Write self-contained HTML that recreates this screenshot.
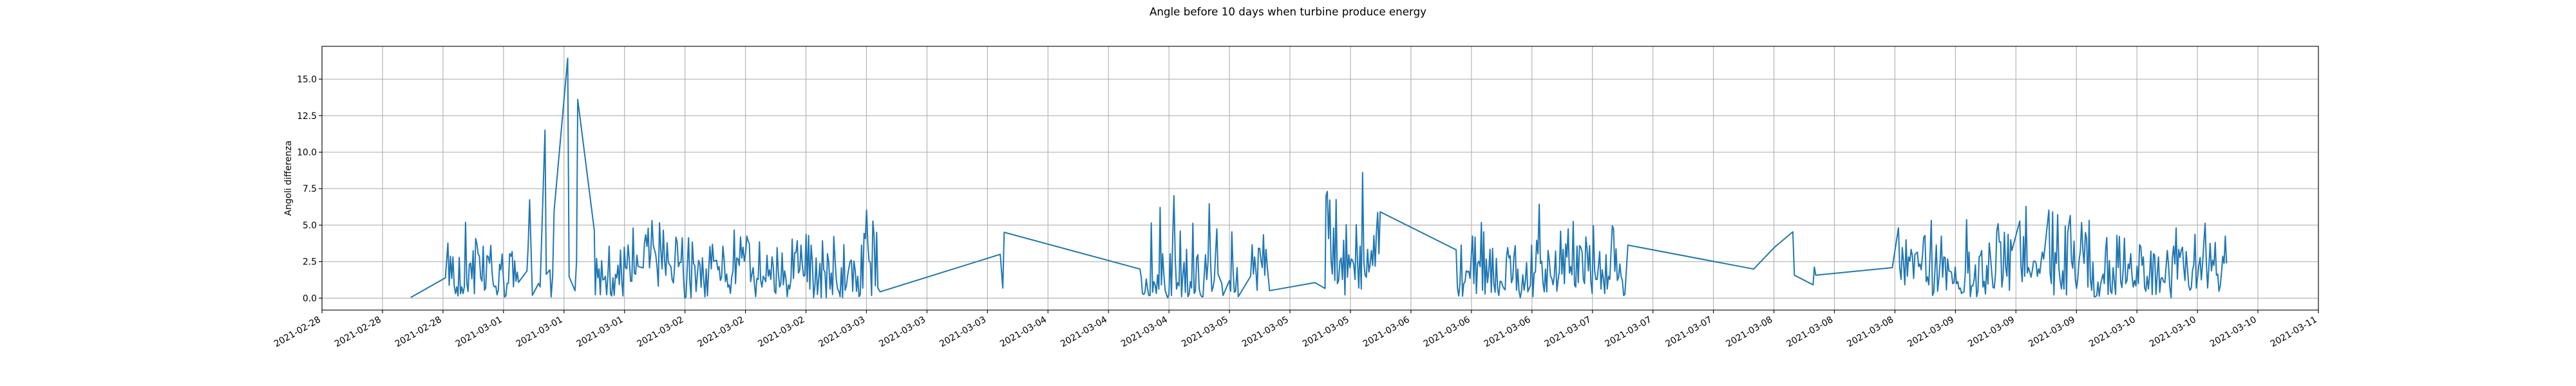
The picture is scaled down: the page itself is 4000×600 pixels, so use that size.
<!DOCTYPE html>
<html><head><meta charset="utf-8"><style>
html,body{margin:0;padding:0;background:#fff;}
svg{display:block;font-family:"DejaVu Sans","Liberation Sans",sans-serif;}
</style></head><body>
<svg id="chart" width="4000" height="600" viewBox="0 0 4000 600" xmlns="http://www.w3.org/2000/svg">
<rect x="0" y="0" width="4000" height="600" fill="#fff"/>
<text x="2000" y="24" text-anchor="middle" font-size="16.7" fill="#000">Angle before 10 days when turbine produce energy</text>
<g id="grid"></g>
<g id="series"></g>
<g id="axes"></g>
<text transform="translate(452,277) rotate(-90)" text-anchor="middle" font-size="13.9" fill="#000">Angoli differenza</text>
</svg>
<script>
// x data: hours after 2021-02-28 00:00; each segment = start hour + 10-minute samples
const xTickLabels = ["2021-02-28","2021-02-28","2021-02-28","2021-03-01","2021-03-01","2021-03-01","2021-03-02","2021-03-02","2021-03-02","2021-03-03","2021-03-03","2021-03-03","2021-03-04","2021-03-04","2021-03-04","2021-03-05","2021-03-05","2021-03-05","2021-03-06","2021-03-06","2021-03-06","2021-03-07","2021-03-07","2021-03-07","2021-03-08","2021-03-08","2021-03-08","2021-03-09","2021-03-09","2021-03-09","2021-03-10","2021-03-10","2021-03-10","2021-03-11"];
const xTickHours = [0,8,16,24,32,40,48,56,64,72,80,88,96,104,112,120,128,136,144,152,160,168,176,184,192,200,208,216,224,232,240,248,256,264];
const yTicks = [0,2.5,5,7.5,10,12.5,15];
const yTickLabels = ["0.0","2.5","5.0","7.5","10.0","12.5","15.0"];
const sampleStepHours = 1/6;
const segStarts = [11.75,16.32,16.65,
27.11,27.27,27.46,27.82,28.64,28.84,29.49,29.65,30.14,30.30,30.50,30.69,32.49,32.68,33.46,33.66,33.82,36.01,
36.14,42.47,52.18,
73.8,89.69,90.02,90.21,108.16,
108.33,
118.99,119.15,120.0,120.16,120.32,120.49,120.65,120.81,121.01,121.17,122.8,
123.0,125.31,131.31,132.64,
132.77,149.98,150.15,153.46,
172.69,189.32,192.09,194.5,194.7,197.17,197.34,197.53,207.66,208.47,
208.64,224.51,224.67,228.36,228.52];
const segValues = [[0.05],[1.39],
[3.77,0.88,2.87,1.35,2.82,0.85,0.31,0.77,0.15,2.79,0.31,0.77,0.31,0.77,5.19,1.01,0.46,2.32,2.40,1.32,3.25,0.31,4.08,3.72,3.02,2.87,1.39,1.16,3.56,0.54,0.70,2.91,2.84,2.40,3.61,1.78,0.93,0.77,0.82,0.23,0.54,2.32,1.94,3.02,1.47,0.08,0.15,1.01,1.01,3.05,2.87,3.18,0.77,2.56,1.16,1.78,1.08],
[1.86],[3.64],[6.74],[0.19],[1.01],[0.77],[11.51],[1.63],[1.94],[0.08],[1.47],[5.97],[16.43],[1.47],[0.51],[2.56],[13.61],[4.65],
[0.23,2.71,1.39,2.01,0.23,2.56,1.24,1.3,1.50,0.23,1.5,3.56,0.31,0.15,1.39,0.20,1.63,1.39,2.25,0.93,3.29,1.16,0.15,3.49,2.09,2.01,3.64,2.6,1.16,1.16,4.80,1.70,1.63,2.94,2.17],
[2.07,3.76,4.35,3.54,4.79,2.07,3.03,5.31,3.62,3.32,2.96,2.15,0.82,5.16,3.32,2.00,4.65,2.59,1.56,3.79,2.44,2.29,2.15,1.26,1.04,2.22,4.18,3.84,2.15,2.44,2.44,4.13,1.41,0.01,0.09,2.15,4.13,1.26,0.01,3.84,2.37,2.22,0.46,1.63,2.59,2.29,0.75,2.76,1.34,0.09,2.00,0.16,2.00,3.54,2.00,3.69,2.51],
[2.60,1.94,2.16,1.21,1.43,3.56,2.60,1.13,1.65,0.76,0.91,0.32,1.43,1.87,4.66,0.99,2.75,2.68,2.24,4.19,2.75,3.49,2.53,3.04,4.25,3.93,3.71,1.13,1.65,2.09,0.99,0.10,1.35,1.28,3.85,1.21,0.76,1.50,1.35,1.13,2.93,1.50,1.94,1.28,2.82,2.16,0.47,0.32,3.46,1.79,0.76,0.99,3.09,0.91,1.87,1.35,0.10,0.91,0.62,1.28,4.04,1.35,3.12,3.12,3.93,1.72,1.94,3.63,2.31,1.50,1.57,4.37,1.13,4.29,0.62,3.63,2.46,0.03,0.84,2.75,0.25,1.28,2.38,0.03,3.93,1.94,1.79,0.03,3.04,2.46,0.62,1.72,0.25,4.22,2.60,1.28,0.62,0.47,0.10,2.09,0.03,3.66,0.54,0.84,1.57,2.09,2.53,2.60,0.47,2.53,1.87,0.47,1.50,0.10,0.25,3.63,0.69,4.44,4.07,6.03,3.71,2.53,2.46,0.18,5.28,4.22,0.84,4.51,0.69],
[0.43],[3.0],[0.69],[4.51],[1.99],
[1.43,0.32,0.25,0.40,1.31,0.69,0.18,0.18,5.15,0.40,1.13,0.91,0.32,1.60,0.62,6.21,0.91,3.04,1.57,0.54,0.25,0.03,0.25,3.04,0.18,4.22,7.01,2.75,0.62,1.06,0.84,4.59,0.10,1.57,2.46,0.40,3.34,0.10,0.25,1.13,0.69,5.13,0.32,0.47,2.75,2.97,0.62,0.25,0.10,0.10,1.57,2.97,1.28,2.46,6.46,2.60,0.47,0.76,1.28,3.04,4.74,1.65],
[0.99],[0.18],[1.21],[0.47],[4.54],[1.87],[0.40],[0.47],[2.09],[0.10],[1.50],
[3.66,1.65,2.82,1.87,0.54,3.41,3.41,2.60,2.09,4.34,1.57,3.34,2.16],[0.51],[1.06],[0.66],
[7.01,7.31,4.07,6.72,2.53,1.65,4.81,1.21,6.75,0.99,1.21,2.53,2.75,1.28,3.96,0.22,5.03,1.43,2.97,2.09,2.68,2.60,2.31,1.28,5.03,2.46,0.69,3.56,0.62,8.60,2.46,1.57,1.43,3.34,1.79,2.31,3.26,2.24,4.29,2.19,4.51,5.87,3.04,5.91],
[3.31],
[0.69,0.15,0.99,3.63,0.13,0.99,1.13,1.87,1.79,1.84,1.35,2.97,4.25,0.99,4.18,0.32,2.38,2.53,2.16,5.18],
[0.54,4.54,0.28,2.68,1.06,1.87,3.34,0.40,3.41,0.99,0.40,2.72,0.62,0.18,1.16,1.13,0.84,0.66,0.57,2.75,3.46,2.75,2.90,1.06,1.35,2.90,3.60,0.54,1.99,0.47,0.03,0.54,1.60,0.54,1.13,2.43,0.43,0.66,0.87,3.63,0.10,1.72,1.79,3.96,3.04,6.43,2.38,2.53,1.06,0.43,1.99,0.43,3.26,2.60,1.50,1.35,0.91,1.50,3.22,0.47,1.21,1.87,4.59,1.65,3.34,0.99,3.71,2.82,4.74,1.72,2.16,1.60,5.25,0.91,0.76,3.56,1.06,3.60,3.49,3.19,1.28,0.99,4.19,3.34,1.87,3.60,1.13,0.32,4.96,1.87,1.28,1.28,2.16,3.19,0.62,1.94,1.28,0.32,2.97,0.62,1.50,1.28,3.19,4.96,4.74,1.84,3.37,1.21,1.43,2.34,1.46,1.21,0.18,0.25],
[3.63],[1.99],[3.49],[4.54],[1.57],[0.91],[2.13],[1.57],[2.09],[4.81],
[2.09,1.28,3.46,2.46,0.91,4.00,1.50,2.82,2.53,3.34,2.90,1.35,2.97,3.07,3.15,2.16,2.34,1.94,2.90,4.15,4.29,1.13,1.46,0.91,2.90,5.32,0.18,0.40,2.01,3.63,0.47,1.28,2.46,4.25,1.43,2.82,2.78,0.57,2.68,1.87,1.82,1.79,0.99,1.06,2.13,0.99,1.13,0.62,0.69,0.32,0.40,0.43,1.72,5.37,1.72,3.16,0.10,0.84,0.84,1.26,2.28,0.10,0.47,2.82,2.93,3.26,0.76,1.16,0.28,2.24,0.96,3.78,2.87,1.72,0.72,0.69,1.69,4.59,5.10,3.85,3.85,0.76,1.50,4.51,2.16,1.50,4.37,0.54,4.00,3.26],
[5.28],
[2.16,1.13,4.22,1.50,6.28,1.72,2.09,1.79,1.43,1.90,2.53,2.53,2.38,1.50,2.01,1.69,2.57,3.16,2.68],
[6.03],
[1.72,0.99,5.91,0.22,3.12,2.38,5.72,2.01,1.21,0.62,1.87,0.62,4.93,0.22,4.51,5.10,5.66,2.53,2.04,3.90,1.28,0.66,1.35,2.60,3.19,5.18,3.26,2.38,4.49,4.07,0.76,5.32,1.28,0.54,2.46,0.10,0.10,0.18,1.10,0.13,0.91,1.31,1.65,0.99,3.26,4.15,0.25,2.57,0.47,0.32,2.09,1.13,0.25,4.29,2.09,4.22,1.13,0.72,1.94,4.10,0.99,1.21,2.34,2.01,3.04,1.50,0.76,1.21,0.84,2.19,0.99,3.66,3.51,2.24,2.82,0.69,0.47,1.50,0.62,1.65,3.22,0.25,3.04,2.93,0.25,1.57,2.82,0.40,1.35,1.40,1.13,1.06,2.09,3.26,2.24,0.76,0.03,2.75,3.56,2.34,4.81,1.31,3.34,2.78,3.26,3.49,2.16,1.21,3.19,2.01,0.84,0.54,0.69,1.87,2.31,4.37,0.69,1.43,2.24,2.78,1.25,2.38,3.78,5.13,2.31,0.69,2.16,3.75,1.87,2.60,2.24,3.81,1.57,1.65,0.47,0.84,1.72,2.87,2.38,4.25,2.38]];

const L=500,R=3600,T=72,B=482,X0=0,X1=264,Y0=-0.82,Y1=17.25;
function xs(h){return L+(h-X0)/(X1-X0)*(R-L);}
function ys(v){return B-(v-Y0)/(Y1-Y0)*(B-T);}
const NS="http://www.w3.org/2000/svg";
function mk(tag,attrs,parent){const e=document.createElementNS(NS,tag);for(const k in attrs)e.setAttribute(k,attrs[k]);parent.appendChild(e);return e;}
const grid=document.getElementById('grid'),axes=document.getElementById('axes'),series=document.getElementById('series');
xTickHours.forEach((h,i)=>{
  const x=xs(h);
  const g=mk('line',{x1:x,x2:x,y1:T,y2:B,stroke:'#b0b0b0','stroke-width':1.1},grid);
  
  
  const t=mk('line',{x1:x,x2:x,y1:B,y2:B+5,stroke:'#000','stroke-width':1.1},axes);
  
  
  const lb=mk('text',{x:x-6,y:491,'text-anchor':'end','dominant-baseline':'hanging','font-size':13.9,transform:`rotate(-30 ${x-6} 491)`},axes);
  lb.textContent=xTickLabels[i];
  
  
});
yTicks.forEach((v,i)=>{
  const y=ys(v);
  const g=mk('line',{x1:L,x2:R,y1:y,y2:y,stroke:'#b0b0b0','stroke-width':1.1},grid);
  
  
  const t=mk('line',{x1:L-5,x2:L,y1:y,y2:y,stroke:'#000','stroke-width':1.1},axes);
  
  
  const lb=mk('text',{x:L-8,y:y+5,'text-anchor':'end','font-size':13.9},axes);
  lb.textContent=yTickLabels[i];
  
  
});
const frame=mk('rect',{x:L,y:T,width:R-L,height:B-T,fill:'none',stroke:'#000','stroke-width':1.1},axes);


const pts=[];
segStarts.forEach((s,i)=>{segValues[i].forEach((v,j)=>{pts.push(xs(s+j*sampleStepHours).toFixed(1)+','+ys(v).toFixed(1));});});
const line=mk('polyline',{points:pts.join(' '),fill:'none',stroke:'#1f77b4','stroke-width':2,'stroke-linejoin':'round'},series);


</script>
</body></html>
